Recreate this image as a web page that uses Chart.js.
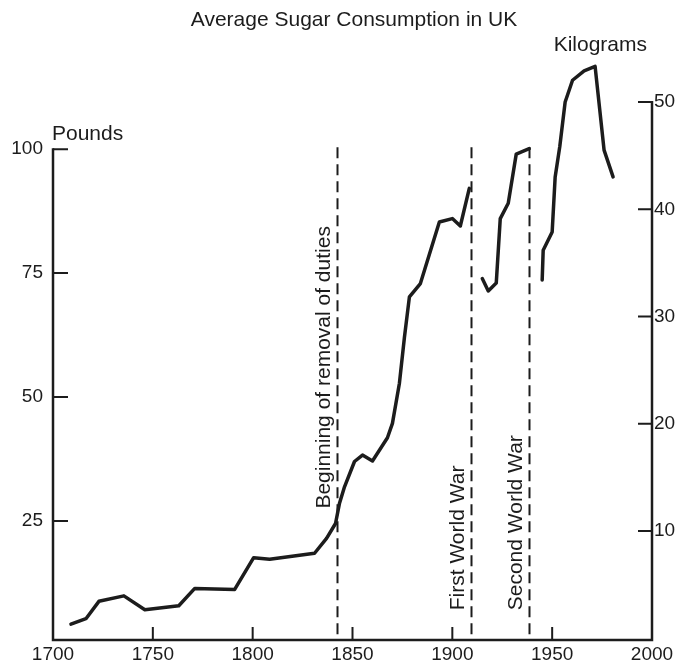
<!DOCTYPE html>
<html>
<head>
<meta charset="utf-8">
<script src="https://cdn.jsdelivr.net/npm/chart.js@4/dist/chart.umd.min.js"></script>
<style>
  html, body { margin: 0; padding: 0; background: #ffffff; }
  #wrap { width: 678px; height: 663px; }
</style>
</head>
<body>
<div id="wrap"><canvas id="c" width="678" height="663"></canvas></div>
<script>
// ---- data ----
const chartTitle = 'Average Sugar Consumption in UK';
const leftAxisTitle = 'Pounds';
const rightAxisTitle = 'Kilograms';

// years and pounds per head; null marks the breaks during the two world wars
const years = [1709, 1716.5, 1723, 1735.5, 1746, 1763, 1771, 1791, 1800.5, 1808.5, 1831, 1837, 1841.5, 1843.5, 1846, 1851, 1855, 1860, 1867.5, 1870, 1873.5, 1876, 1878.5, 1884, 1893.5, 1900, 1904, 1908.5,
  1912,
  1915, 1918, 1922, 1924, 1928, 1932, 1938.5,
  1941,
  1945, 1945.5, 1950, 1951.5, 1953.8, 1956.5, 1960.2, 1966, 1971.5, 1976, 1980.5];
const pounds = [4.2, 5.3, 8.8, 9.9, 7.1, 7.9, 11.4, 11.2, 17.6, 17.3, 18.5, 21.5, 24.5, 28.6, 31.9, 37.0, 38.3, 37.1, 41.8, 44.7, 52.8, 62.0, 70.2, 72.9, 85.3, 86.0, 84.5, 92.1,
  null,
  73.9, 71.4, 73.0, 86.0, 89.1, 99.0, 100.1,
  null,
  73.6, 79.6, 83.3, 94.4, 100.5, 109.5, 113.9, 115.8, 116.7, 99.8, 94.4];

const eventYears = [1842, 1909.5, 1938.5];
const eventLabels = ['Beginning of removal of duties', 'First World War', 'Second World War'];

const xTicks = [1700, 1750, 1800, 1850, 1900, 1950, 2000];
const poundTicks = [25, 50, 75, 100];
const kiloTicks = [10, 20, 30, 40, 50];

// ---- styling ----
const FONT = '"Liberation Sans", Arial, Helvetica, sans-serif';
const INK = '#1c1c1c';

const points = years.map((x, i) => ({ x: x, y: pounds[i] }));

const decor = {
  id: 'decor',
  beforeDatasetsDraw(chart) {
    const ctx = chart.ctx;
    const xs = chart.scales.x, yl = chart.scales.y, yr = chart.scales.y2;
    const a = chart.chartArea;
    ctx.save();
    // dashed event lines
    ctx.strokeStyle = INK;
    ctx.lineWidth = 2;
    ctx.setLineDash([11, 6]);
    eventYears.forEach(yr0 => {
      const px = Math.round(xs.getPixelForValue(yr0)) + 0.5;
      ctx.beginPath();
      ctx.moveTo(px, yl.getPixelForValue(100.4));
      ctx.lineTo(px, a.bottom);
      ctx.stroke();
    });
    ctx.setLineDash([]);

    // axes
    ctx.lineWidth = 2.5;
    ctx.lineCap = 'butt';
    ctx.beginPath();
    ctx.moveTo(a.left, yl.getPixelForValue(100) - 1);
    ctx.lineTo(a.left, a.bottom);
    ctx.lineTo(a.right, a.bottom);
    ctx.lineTo(a.right, yr.getPixelForValue(50) - 1);
    ctx.stroke();

    ctx.lineWidth = 2;
    ctx.beginPath();
    poundTicks.forEach(v => {
      const py = yl.getPixelForValue(v);
      ctx.moveTo(a.left, py); ctx.lineTo(a.left + 15, py);
    });
    kiloTicks.forEach(v => {
      const py = yr.getPixelForValue(v);
      ctx.moveTo(a.right, py); ctx.lineTo(a.right - 14, py);
    });
    xTicks.slice(1, -1).forEach(v => {
      const px = xs.getPixelForValue(v);
      ctx.moveTo(px, a.bottom); ctx.lineTo(px, a.bottom - 13);
    });
    ctx.stroke();

    // texts
    ctx.fillStyle = INK;
    ctx.font = '21px ' + FONT;
    ctx.textBaseline = 'middle';
    ctx.textAlign = 'center';
    ctx.fillText(chartTitle, 354, 20);
    ctx.textAlign = 'left';
    ctx.fillText(leftAxisTitle, a.left - 1, 134);
    ctx.textAlign = 'right';
    ctx.fillText(rightAxisTitle, a.right - 5, 45);

    // rotated event labels
    const labelBottoms = [27.5, 7, 7];
    const labelOffsets = [-12, -13, -13];
    eventYears.forEach((yr0, i) => {
      const px = xs.getPixelForValue(yr0) + labelOffsets[i];
      const py = yl.getPixelForValue(labelBottoms[i]);
      ctx.save();
      ctx.translate(px, py);
      ctx.rotate(-Math.PI / 2);
      ctx.textAlign = 'left';
      ctx.textBaseline = 'middle';
      ctx.fillText(eventLabels[i], 0, 0);
      ctx.restore();
    });
    ctx.restore();
  }
};

const tickFont = { family: FONT, size: 19 };
const plain = v => String(v);

new Chart(document.getElementById('c'), {
  type: 'line',
  data: {
    datasets: [{
      data: points,
      borderColor: INK,
      borderWidth: 3.5,
      pointRadius: 0,
      tension: 0,
      spanGaps: false,
      fill: false,
      yAxisID: 'y',
      borderJoinStyle: 'round',
      borderCapStyle: 'round'
    }]
  },
  options: {
    responsive: false,
    animation: false,
    devicePixelRatio: 1,
    layout: { padding: { top: 50, left: 0, right: 0, bottom: 0 } },
    plugins: { legend: { display: false }, tooltip: { enabled: false }, title: { display: false } },
    scales: {
      x: {
        type: 'linear', min: 1700, max: 2000,
        grid: { display: false, drawTicks: false },
        border: { display: false },
        afterBuildTicks: s => { s.ticks = xTicks.map(v => ({ value: v })); },
        afterFit: s => { s.height = 23; },
        ticks: { font: tickFont, color: INK, padding: 3, maxRotation: 0, autoSkip: false, callback: plain }
      },
      y: {
        type: 'linear', position: 'left', min: 1, max: 120,
        grid: { display: false, drawTicks: false },
        border: { display: false },
        afterBuildTicks: s => { s.ticks = poundTicks.map(v => ({ value: v })); },
        afterFit: s => { s.width = 53; },
        ticks: { font: tickFont, color: INK, padding: 10, callback: plain }
      },
      y2: {
        type: 'linear', position: 'right', min: -0.16, max: 54.85,
        grid: { display: false, drawTicks: false },
        border: { display: false },
        afterBuildTicks: s => { s.ticks = kiloTicks.map(v => ({ value: v })); },
        afterFit: s => { s.width = 26; },
        ticks: { font: tickFont, color: INK, padding: 2, callback: plain }
      }
    }
  },
  plugins: [decor]
});
</script>
</body>
</html>
